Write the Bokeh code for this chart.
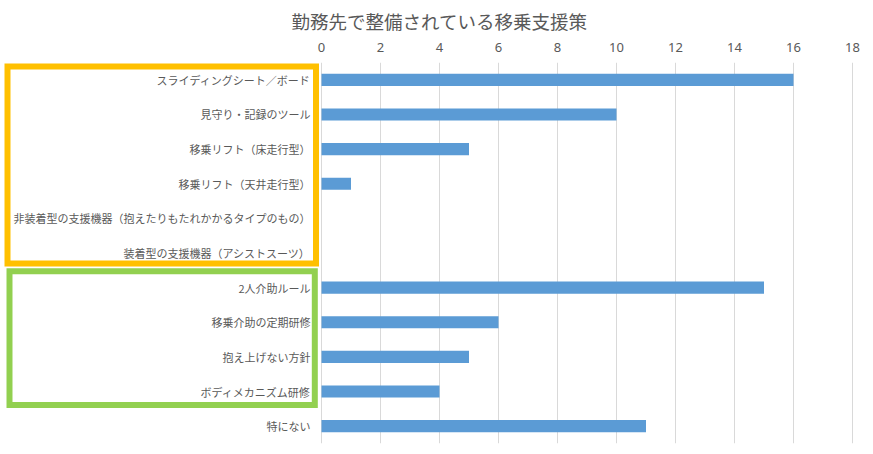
from bokeh.plotting import figure
from bokeh.models import FactorRange, Range1d, FixedTicker, BoxAnnotation
from bokeh.core.properties import value
from bokeh.embed import file_html
from bokeh.resources import INLINE

categories = [
    "スライディングシート／ボード",
    "見守り・記録のツール",
    "移乗リフト（床走行型）",
    "移乗リフト（天井走行型）",
    "非装着型の支援機器（抱えたりもたれかかるタイプのもの）",
    "装着型の支援機器（アシストスーツ）",
    "2人介助ルール",
    "移乗介助の定期研修",
    "抱え上げない方針",
    "ボディメカニズム研修",
    "特にない",
]
counts = [16, 10, 5, 1, 0, 0, 15, 6, 5, 4, 11]
x_ticks = [0, 2, 4, 6, 8, 10, 12, 14, 16, 18]
title_text = "勤務先で整備されている移乗支援策"

# highlighted groups: (first index, last index, colour)
groups = [(0, 5, "#FFC000"), (6, 9, "#92D050")]

TXT = "#595959"
FONT = "Noto Sans CJK JP"

W, H = 865, 446
PX0 = 321          # pixel position of value 0
PX_PER = 29.5      # pixels per unit

p = figure(
    width=W, height=H,
    y_range=FactorRange(factors=categories[::-1]),
    x_range=Range1d(-PX0 / PX_PER, (W - PX0) / PX_PER),
    x_axis_location="above",
    output_backend="svg", toolbar_location=None,
    min_border_left=0, min_border_right=0,
    min_border_top=62, min_border_bottom=3,
)
p.outline_line_color = None
p.background_fill_color = "white"
p.border_fill_color = "white"

p.hbar(y=categories, right=counts, height=0.35, fill_color="#5B9BD5", line_color=None)

# category labels
p.text(x=[0] * len(categories), y=categories, text=categories,
       x_offset=-11, text_align="right", text_baseline="middle",
       text_font=value(FONT), text_font_size="11px", text_color=TXT)

# title
p.title.text = title_text
p.title.text_font = FONT
p.title.text_font_size = "18.5px"
p.title.text_font_style = "normal"
p.title.text_color = TXT
p.title.align = "left"
p.title.offset = 291
p.title.standoff = 11

xa = p.xaxis[0]
xa.ticker = FixedTicker(ticks=x_ticks)
xa.axis_line_color = None
xa.major_tick_line_color = None
xa.minor_tick_line_color = None
xa.major_label_text_font = "Noto Sans"
xa.major_label_text_font_size = "13px"
xa.major_label_text_color = TXT
xa.major_label_standoff = 5

p.yaxis.visible = False

p.xgrid.ticker = FixedTicker(ticks=x_ticks)
p.xgrid.grid_line_color = "#D9D9D9"
p.ygrid.grid_line_color = None

n = len(categories)
# (top inset, bottom inset, left px, right px) of each highlight frame
frame_style = {"#FFC000": (0.115, 0.20, 7, 315.5), "#92D050": (0.03, 0.11, 9, 314.3)}
for first, last, col in groups:
    top_in, bot_in, lft, rgt = frame_style[col]
    box = BoxAnnotation(
        left=lft, right=rgt, left_units="screen", right_units="screen",
        top=n - first - top_in, bottom=n - last - 1 + bot_in,
        fill_alpha=0, fill_color=None,
        line_color=col, line_width=6, line_alpha=1.0, line_join="miter",
    )
    p.add_layout(box)

open("out.html", "w").write(file_html(p, INLINE))
